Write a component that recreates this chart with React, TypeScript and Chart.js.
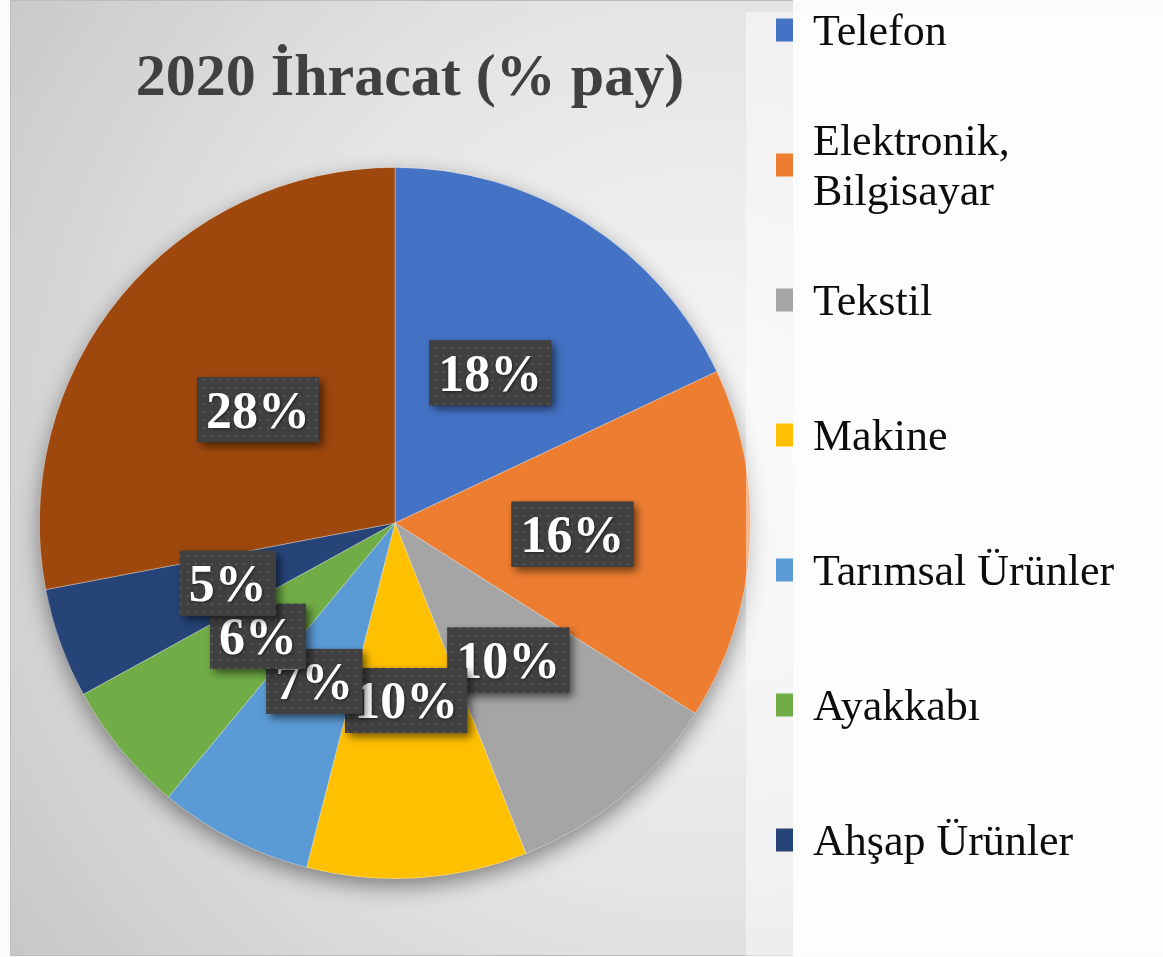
import React, { useEffect, useRef } from "react";
import { Chart, registerables } from "chart.js";

Chart.register(...registerables);

// ---- data ----
const categories = [
  "Telefon",
  "Elektronik, Bilgisayar",
  "Tekstil",
  "Makine",
  "Tarımsal Ürünler",
  "Ayakkabı",
  "Ahşap Ürünler",
  "Diğer",
];
const shares = [18, 16, 10, 10, 7, 6, 5, 28];
const sliceColors = ["#4472C4", "#ED7D31", "#A5A5A5", "#FFC000", "#5B9BD5", "#70AD47", "#264478", "#9E480E"];
const legendCount = 7; // the last slice has no entry in the original legend
const titleText = "2020 İhracat (% pay)";

const W = 1163;
const H = 957;
const SERIF = "'Liberation Serif', 'DejaVu Serif', serif";

function makePattern(ctx: CanvasRenderingContext2D) {
  const c = document.createElement("canvas");
  c.width = 8;
  c.height = 8;
  const p = c.getContext("2d")!;
  p.fillStyle = "#404040";
  p.fillRect(0, 0, 8, 8);
  p.fillStyle = "#575757";
  p.fillRect(3, 3, 2, 2);
  return ctx.createPattern(c, "repeat");
}

function wrap(ctx: CanvasRenderingContext2D, text: string, maxW: number) {
  const words = text.split(" ");
  const lines: string[] = [];
  let cur = "";
  for (const w of words) {
    const t = cur ? cur + " " + w : w;
    if (cur && ctx.measureText(t).width > maxW) {
      lines.push(cur);
      cur = w;
    } else cur = t;
  }
  if (cur) lines.push(cur);
  return lines;
}

const decorPlugin = {
  id: "decor",
  beforeDraw(chart: any) {
    const ctx: CanvasRenderingContext2D = chart.ctx;
    ctx.save();
    ctx.fillStyle = "#fbfbfb";
    ctx.fillRect(0, 0, W, H);
    const g = ctx.createRadialGradient(700, 450, 0, 700, 450, 900);
    g.addColorStop(0, "#f8f8f8");
    g.addColorStop(0.5, "#e4e4e4");
    g.addColorStop(1, "#c4c4c4");
    ctx.fillStyle = g;
    ctx.fillRect(10, 0, 783, 956);
    ctx.strokeStyle = "#bdbdbd";
    ctx.lineWidth = 1;
    ctx.beginPath();
    ctx.moveTo(793, 0.5);
    ctx.lineTo(10.5, 0.5);
    ctx.lineTo(10.5, 955.5);
    ctx.lineTo(793, 955.5);
    ctx.stroke();
    ctx.fillStyle = "#404040";
    ctx.font = `bold 60px ${SERIF}`;
    ctx.textAlign = "center";
    ctx.textBaseline = "alphabetic";
    ctx.fillText(titleText, 410, 95);
    ctx.restore();
  },
  beforeDatasetsDraw(chart: any) {
    const ctx: CanvasRenderingContext2D = chart.ctx;
    const arc = chart.getDatasetMeta(0).data[0];
    const { x, y, outerRadius } = arc.getProps(["x", "y", "outerRadius"], true);
    ctx.save();
    ctx.shadowColor = "rgba(0,0,0,0.45)";
    ctx.shadowBlur = 22;
    ctx.shadowOffsetY = 8;
    ctx.fillStyle = "#999";
    ctx.beginPath();
    ctx.arc(x, y, outerRadius - 1, 0, Math.PI * 2);
    ctx.fill();
    ctx.restore();
  },
  afterDatasetsDraw(chart: any) {
    const ctx: CanvasRenderingContext2D = chart.ctx;
    const meta = chart.getDatasetMeta(0);
    const pattern = makePattern(ctx);
    const data: number[] = chart.data.datasets[0].data;
    const total = data.reduce((a, b) => a + b, 0);
    ctx.save();
    ctx.font = `bold 52px ${SERIF}`;
    meta.data.forEach((el: any, i: number) => {
      const p = el.tooltipPosition(true);
      const text = Math.round((data[i] / total) * 100) + "%";
      const tw = ctx.measureText(text).width;
      const bw = tw + 18;
      const bh = 65;
      const bx = p.x - bw / 2;
      const by = p.y - bh / 2;
      ctx.save();
      ctx.shadowColor = "rgba(0,0,0,0.55)";
      ctx.shadowBlur = 8;
      ctx.shadowOffsetX = 4;
      ctx.shadowOffsetY = 4;
      ctx.fillStyle = "#404040";
      ctx.fillRect(bx, by, bw, bh);
      ctx.restore();
      if (pattern) {
        ctx.fillStyle = pattern;
        ctx.fillRect(bx, by, bw, bh);
      }
      ctx.save();
      ctx.shadowColor = "rgba(0,0,0,0.5)";
      ctx.shadowBlur = 3;
      ctx.shadowOffsetX = 1;
      ctx.shadowOffsetY = 1;
      ctx.fillStyle = "#ffffff";
      ctx.textAlign = "center";
      ctx.textBaseline = "alphabetic";
      ctx.fillText(text, p.x, p.y + 18);
      ctx.restore();
    });
    ctx.restore();
  },
  afterDraw(chart: any) {
    const ctx: CanvasRenderingContext2D = chart.ctx;
    const colors: string[] = chart.data.datasets[0].backgroundColor;
    const labels: string[] = chart.data.labels;
    ctx.save();
    ctx.fillStyle = "rgba(255,255,255,0.45)";
    ctx.fillRect(746, 12, W - 746, 944);
    ctx.font = `44px ${SERIF}`;
    ctx.textAlign = "left";
    ctx.textBaseline = "alphabetic";
    for (let i = 0; i < legendCount; i++) {
      const rowY = 30 + 135 * i;
      ctx.fillStyle = colors[i];
      ctx.fillRect(776, rowY - 11.5, 17, 23);
      ctx.fillStyle = "#0d0d0d";
      const lines = wrap(ctx, labels[i], 345);
      const first = rowY + 15 - ((lines.length - 1) * 50) / 2;
      lines.forEach((ln, k) => ctx.fillText(ln, 813, first + k * 50));
    }
    ctx.restore();
  },
};

export default function App() {
  const ref = useRef<HTMLCanvasElement | null>(null);
  useEffect(() => {
    if (!ref.current) return;
    const chart = new Chart(ref.current, {
      type: "pie",
      data: {
        labels: categories,
        datasets: [
          {
            data: shares,
            backgroundColor: sliceColors,
            borderColor: "rgba(255,255,255,0.45)",
            borderWidth: 0.75,
          },
        ],
      },
      options: {
        responsive: false,
        animation: false,
        events: [],
        layout: { padding: { left: 39, right: 412, top: 167, bottom: 78 } },
        plugins: {
          legend: { display: false },
          title: { display: false },
          tooltip: { enabled: false },
        },
      },
      plugins: [decorPlugin as any],
    });
    return () => chart.destroy();
  }, []);
  return (
    <canvas
      ref={ref}
      width={W}
      height={H}
      style={{ position: "fixed", left: 0, top: 0, width: W, height: H }}
    />
  );
}
